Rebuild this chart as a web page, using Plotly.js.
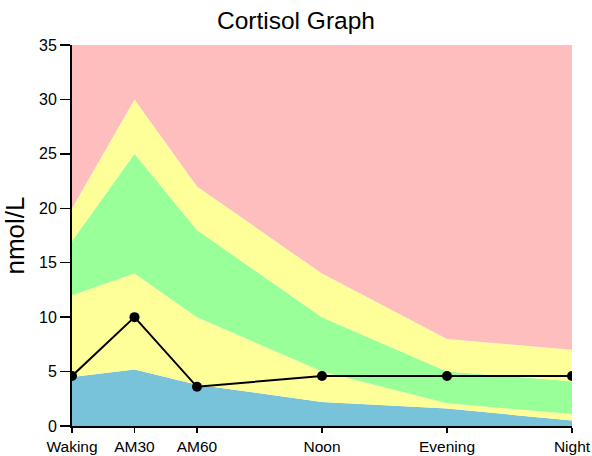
<!DOCTYPE html>
<html>
<head>
<meta charset="utf-8">
<script src="https://cdn.plot.ly/plotly-3.0.1.min.js"></script>
<style>html,body{margin:0;padding:0;background:#fff;}#chart{width:592px;height:456px;}</style>
</head>
<body>
<div id="chart"></div>
<script>
const categories = ["Waking", "AM30", "AM60", "Noon", "Evening", "Night"];
const xPositions = [0, 1, 2, 4, 6, 8];
const lowBand = [4.5, 5.2, 3.8, 2.2, 1.6, 0.5];
const lowNormal = [12, 14, 10, 5, 2.1, 1.1];
const optimal = [17, 25, 18, 10, 5, 4.1];
const highNormal = [20, 30, 22, 14, 8, 7];
const highBand = [35, 35, 35, 35, 35, 35];
const measured = [4.6, 10, 3.6, 4.6, 4.6, 4.6];

function band(y, color, fill) {
  return {x: xPositions, y: y, type: 'scatter', mode: 'lines', fill: fill,
    fillcolor: color, line: {width: 0, color: color}, hoverinfo: 'skip', showlegend: false};
}
const traces = [
  band(lowBand, 'rgb(120,194,218)', 'tozeroy'),
  band(lowNormal, 'rgb(255,255,153)', 'tonexty'),
  band(optimal, 'rgb(153,255,153)', 'tonexty'),
  band(highNormal, 'rgb(255,255,153)', 'tonexty'),
  band(highBand, 'rgb(255,190,190)', 'tonexty'),
  {x: xPositions, y: measured, type: 'scatter', mode: 'lines+markers',
   line: {color: 'black', width: 2}, marker: {color: 'black', size: 10}, showlegend: false}
];
const layout = {
  width: 592, height: 456,
  margin: {l: 72, r: 20, t: 45, b: 30},
  paper_bgcolor: 'white', plot_bgcolor: 'white',
  font: {family: 'Liberation Sans, Arial, sans-serif', color: 'black', size: 16},
  title: {text: 'Cortisol Graph', font: {size: 24.5}, x: 0.5, xanchor: 'center', y: 0.975, yanchor: 'top'},
  xaxis: {range: [0, 8], tickvals: xPositions, ticktext: categories, showgrid: false, zeroline: false,
    showline: true, linecolor: 'black', linewidth: 2, ticks: 'outside', ticklen: 5, tickwidth: 1.5, tickcolor: 'black',
    tickfont: {size: 15.5}},
  yaxis: {range: [0, 35], dtick: 5, showgrid: false, zeroline: false,
    showline: true, linecolor: 'black', linewidth: 2, ticks: 'outside', ticklen: 10, tickwidth: 1.5, tickcolor: 'black',
    tickfont: {size: 16}, title: {text: 'nmol/L', font: {size: 26}, standoff: 8}}
};
Plotly.newPlot('chart', traces, layout, {displayModeBar: false, staticPlot: true});
</script>
</body>
</html>
